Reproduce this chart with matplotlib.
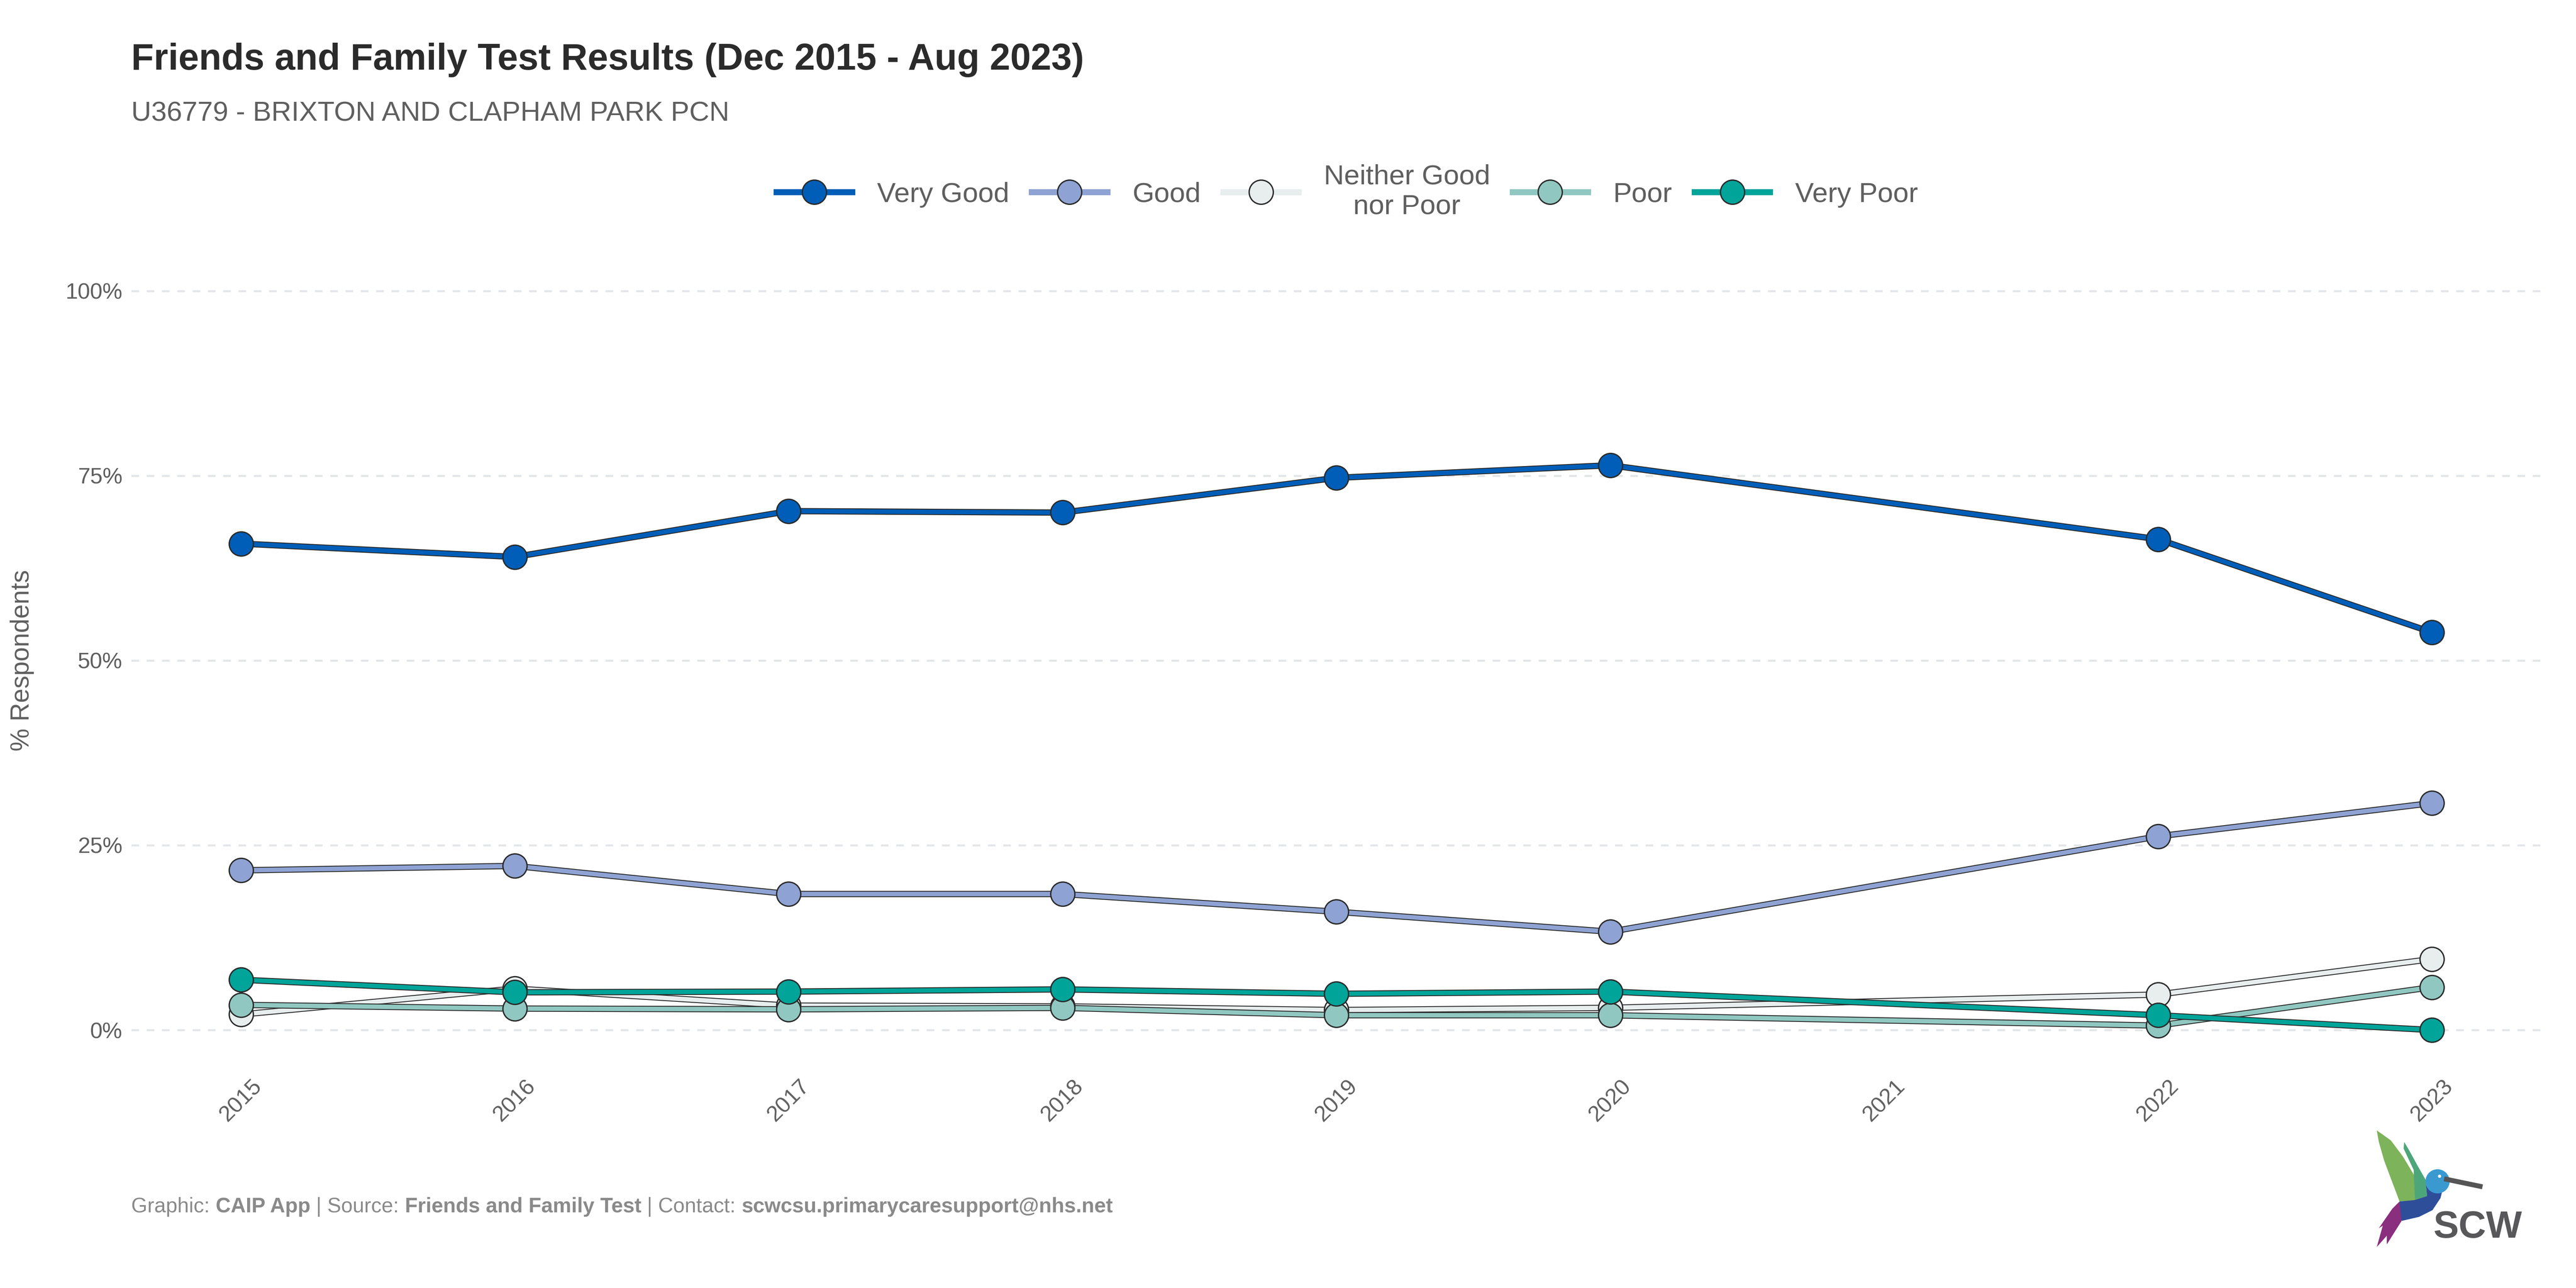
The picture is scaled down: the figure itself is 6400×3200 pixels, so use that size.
# Friends and Family Test results - line chart with outlined lines and points
import matplotlib
matplotlib.use("Agg")
import matplotlib.pyplot as plt
from matplotlib.lines import Line2D
from matplotlib.patches import Polygon, Ellipse
from matplotlib.text import Annotation
from matplotlib.ticker import FuncFormatter

plt.rcParams['font.family'] = ['Liberation Sans', 'DejaVu Sans']

# data (% of respondents)
years = [2015, 2016, 2017, 2018, 2019, 2020, 2022, 2023]
very_good = [65.8, 64.0, 70.2, 70.0, 74.7, 76.4, 66.4, 53.8]
good = [21.6, 22.2, 18.4, 18.4, 16.0, 13.3, 26.2, 30.7]
neither = [2.1, 5.6, 3.3, 3.2, 2.7, 3.0, 4.8, 9.6]
poor = [3.4, 2.9, 2.8, 3.0, 2.0, 2.0, 0.6, 5.8]
very_poor = [6.8, 5.1, 5.2, 5.5, 4.9, 5.2, 2.0, 0.0]

labels = ["Very Good", "Good", "Neither Good\nnor Poor", "Poor", "Very Poor"]
colours = ["#005EB8", "#8EA3D3", "#E8EDEE", "#90C8C1", "#00A499"]
series = [very_good, good, neither, poor, very_poor]

year_ticks = list(range(2015, 2024))
y_ticks = [0, 25, 50, 75, 100]

edge = "#2b2b2b"
text_grey = "#5f5f5f"
cap_grey = "#8a8a8a"

fig = plt.figure(figsize=(16, 8), dpi=400)
ax = fig.add_axes([0.051, 0.1716, 0.9356, 0.6313])

# dark outline under each coloured line, points on top
for vals, col in zip(series, colours):
    ax.plot(years, vals, color=edge, lw=2.8, solid_capstyle='butt', zorder=2)
    ax.plot(years, vals, color=col, lw=2.0, solid_capstyle='butt', zorder=2)
for vals, col in zip(series, colours):
    ax.plot(years, vals, ls='none', marker='o', ms=10.8, mfc=col, mec=edge,
            mew=0.6, zorder=3)

ax.set_xlim(2014.6, 2023.4)
ax.set_ylim(-5, 105)
ax.set_xticks(year_ticks)
ax.set_xticklabels([str(y) for y in year_ticks], rotation=45, ha='center', va='top')
ax.set_yticks(y_ticks)
ax.yaxis.set_major_formatter(FuncFormatter(lambda v, p: f"{v:.0f}%"))
ax.tick_params(length=0, labelsize=10, labelcolor=text_grey, pad=4)

ax.grid(axis='y', color='#E3E6E9', lw=0.9, ls=(0, (3.8, 3.8)))
ax.grid(axis='x', visible=False)
ax.set_axisbelow(True)
for s in ax.spines.values():
    s.set_visible(False)

ax.set_ylabel("% Respondents", fontsize=11.5, color=text_grey, labelpad=14)

# titles
fig.text(0.051, 0.946, "Friends and Family Test Results (Dec 2015 - Aug 2023)",
         fontsize=16.5, fontweight='bold', color='#2b2b2b', va='baseline')
fig.text(0.051, 0.906, "U36779 - BRIXTON AND CLAPHAM PARK PCN",
         fontsize=12.4, color=text_grey, va='baseline')

# legend
handles = [Line2D([], [], color=c, lw=2.7, marker='o', ms=10.8, mfc=c, mec=edge, mew=0.6)
           for c in colours]
leg = fig.legend(handles, labels, loc='center', bbox_to_anchor=(0.523, 0.851), ncol=5,
                 frameon=False, fontsize=12.5, labelcolor=text_grey, handlelength=2.7,
                 handletextpad=0.9, columnspacing=0.8)
for t in leg.get_texts():
    t.set_multialignment('center')

# caption, bold parts chained one after another
pieces = [("Graphic: ", 'normal'), ("CAIP App", 'bold'), (" | Source: ", 'normal'),
          ("Friends and Family Test", 'bold'), (" | Contact: ", 'normal'),
          ("scwcsu.primarycaresupport@nhs.net", 'bold')]
prev = fig.text(0.051, 1 - 738 / 784, pieces[0][0], fontsize=9.3, color=cap_grey,
                fontweight=pieces[0][1], va='baseline')
for txt, wt in pieces[1:]:
    prev = fig.add_artist(Annotation(txt, xy=(1, 0), xycoords=prev, va='bottom',
                                     ha='left', fontsize=9.3, color=cap_grey, fontweight=wt))


# SCW logo (hummingbird + text), coordinates measured on the logo crop
def logo_xy(zx, zy):
    return ((5800 + zx / 3) / 6400, 1 - (2750 + zy / 3) / 3200)


bird = [
    ("#7DB35A", [(315, 175), (420, 250), (510, 370), (600, 520), (690, 665),
                 (595, 700), (485, 705), (430, 560), (370, 400), (330, 260)]),
    ("#4DA67A", [(520, 262), (560, 330), (620, 440), (680, 545), (690, 665),
                 (600, 690), (590, 470), (515, 310)]),
    ("#2E4E9A", [(680, 560), (810, 600), (790, 680), (730, 770), (630, 820),
                 (500, 850), (485, 790), (485, 705), (595, 695), (690, 665)]),
    ("#8A2E7E", [(485, 705), (430, 760), (330, 905), (360, 885), (315, 1045),
                 (390, 960), (390, 1025), (500, 850)]),
]
for col, pts in bird:
    fig.add_artist(Polygon([logo_xy(*p) for p in pts], closed=True, fc=col, ec='none',
                           transform=fig.transFigure))
hx, hy = logo_xy(768, 555)
fig.add_artist(Ellipse((hx, hy), 180 / 3 / 6400, 180 / 3 / 3200, fc="#3A9AD0",
                       ec='none', transform=fig.transFigure))
bx0, by0 = logo_xy(835, 540)
bx1, by1 = logo_xy(1085, 592)
fig.add_artist(Line2D([bx0, bx1], [by0, by1], color='#555555', lw=2.2,
                      transform=fig.transFigure))
ex, ey = logo_xy(783, 517)
fig.add_artist(Ellipse((ex, ey), 24 / 3 / 6400, 24 / 3 / 3200, fc='white', ec='none',
                       transform=fig.transFigure))
sx, sy = logo_xy(735, 975)
fig.text(sx, sy, "SCW", fontsize=17, fontweight='bold', color='#58585a', va='baseline')

fig.savefig("out.png", dpi=400, facecolor='white')
